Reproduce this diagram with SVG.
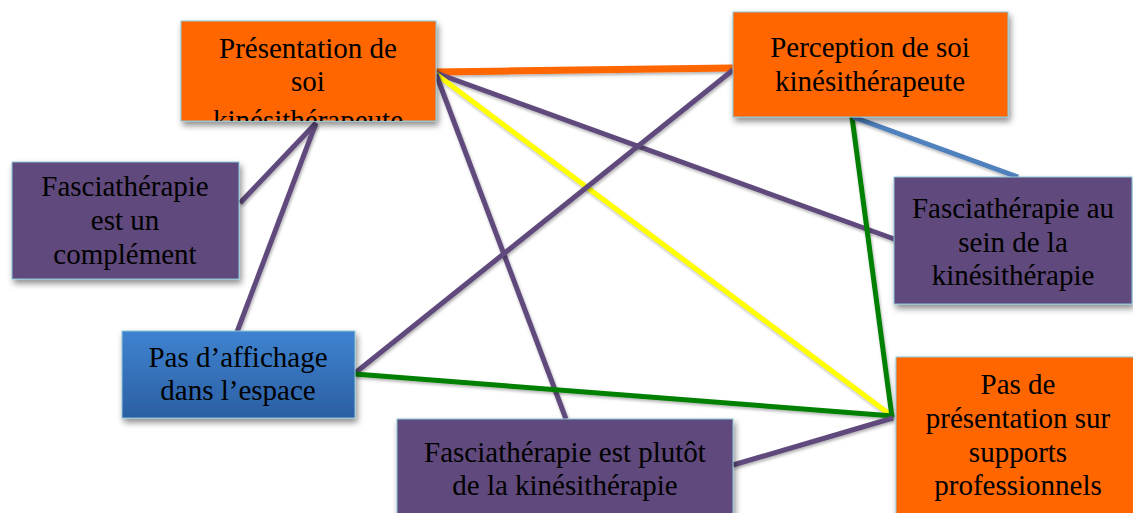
<svg xmlns="http://www.w3.org/2000/svg" width="1133" height="513" viewBox="0 0 1133 513">
<defs>
<filter id="sh" x="-10%" y="-10%" width="130%" height="140%">
<feDropShadow dx="2" dy="4" stdDeviation="3" flood-color="#000" flood-opacity="0.45"/>
</filter>
<filter id="lsh" filterUnits="userSpaceOnUse" x="0" y="0" width="1133" height="513">
<feDropShadow dx="1" dy="2" stdDeviation="1.5" flood-color="#000" flood-opacity="0.3"/>
</filter>
<linearGradient id="blueg" x1="0" y1="0" x2="0" y2="1">
<stop offset="0" stop-color="#3f83d0"/>
<stop offset="1" stop-color="#2b5fa3"/>
</linearGradient>
<clipPath id="c1"><rect x="181" y="21" width="255" height="100"/></clipPath>
<style>
.box{stroke:#8ec5d8;stroke-width:1;filter:url(#sh)}
.or{fill:#ff6600}
.pu{fill:#604a7b}
.bl{fill:url(#blueg)}
text{font-family:"Liberation Serif","Times New Roman",serif;font-size:29px;fill:#000;text-anchor:middle}
.ln{fill:none;stroke-width:5;stroke-linecap:butt;filter:url(#lsh)}
.p{stroke:#604a7b}
.g{stroke:#008000}
.y{stroke:#ffff00}
.o{stroke:#ff6600;stroke-width:7}
.b{stroke:#4f81bd}
</style>
</defs>
<g id="connectors">
<line class="ln o" x1="435" y1="72" x2="733" y2="68"/>
<line class="ln p" x1="436" y1="73" x2="897" y2="240"/>
<line class="ln y" x1="436" y1="74" x2="892" y2="416"/>
<line class="ln p" x1="436" y1="74" x2="566" y2="419"/>
<line class="ln p" x1="316" y1="123" x2="240" y2="203"/>
<line class="ln p" x1="316" y1="123" x2="237" y2="332"/>
<line class="ln p" x1="733" y1="70" x2="355" y2="373"/>
<line class="ln g" x1="355" y1="374" x2="893" y2="416"/>
<line class="ln g" x1="852" y1="117" x2="892" y2="417"/>
<line class="ln b" x1="853" y1="117" x2="1018" y2="177"/>
<line class="ln p" x1="733" y1="465" x2="893" y2="418"/>
</g>
<g id="n1">
<rect class="box or" x="181" y="21" width="255" height="100"/>
<g clip-path="url(#c1)">
<text x="308" y="58">Présentation de</text>
<text x="308" y="91">soi</text>
<text x="308" y="130">kinésithérapeute</text>
</g>
</g>
<g id="n2">
<rect class="box or" x="733" y="12" width="275" height="105"/>
<text x="870" y="57">Perception de soi</text>
<text x="870" y="91">kinésithérapeute</text>
</g>
<g id="n3">
<rect class="box pu" x="12" y="162" width="227" height="117"/>
<text x="125" y="196">Fasciathérapie</text>
<text x="125" y="230">est un</text>
<text x="125" y="264">complément</text>
</g>
<g id="n4">
<rect class="box bl" x="122" y="331" width="233" height="87"/>
<text x="238" y="367">Pas d’affichage</text>
<text x="238" y="400">dans l’espace</text>
</g>
<g id="n5">
<rect class="box pu" x="397" y="419" width="336" height="110"/>
<text x="565" y="462">Fasciathérapie est plutôt</text>
<text x="565" y="495">de la kinésithérapie</text>
</g>
<g id="n6">
<rect class="box or" x="896" y="357" width="245" height="170"/>
<text x="1018" y="394">Pas de</text>
<text x="1018" y="428">présentation sur</text>
<text x="1018" y="462">supports</text>
<text x="1018" y="495">professionnels</text>
</g>
<g id="n7">
<rect class="box pu" x="894" y="177" width="238" height="127"/>
<text x="1013" y="218">Fasciathérapie au</text>
<text x="1013" y="252">sein de la</text>
<text x="1013" y="285">kinésithérapie</text>
</g>
</svg>
